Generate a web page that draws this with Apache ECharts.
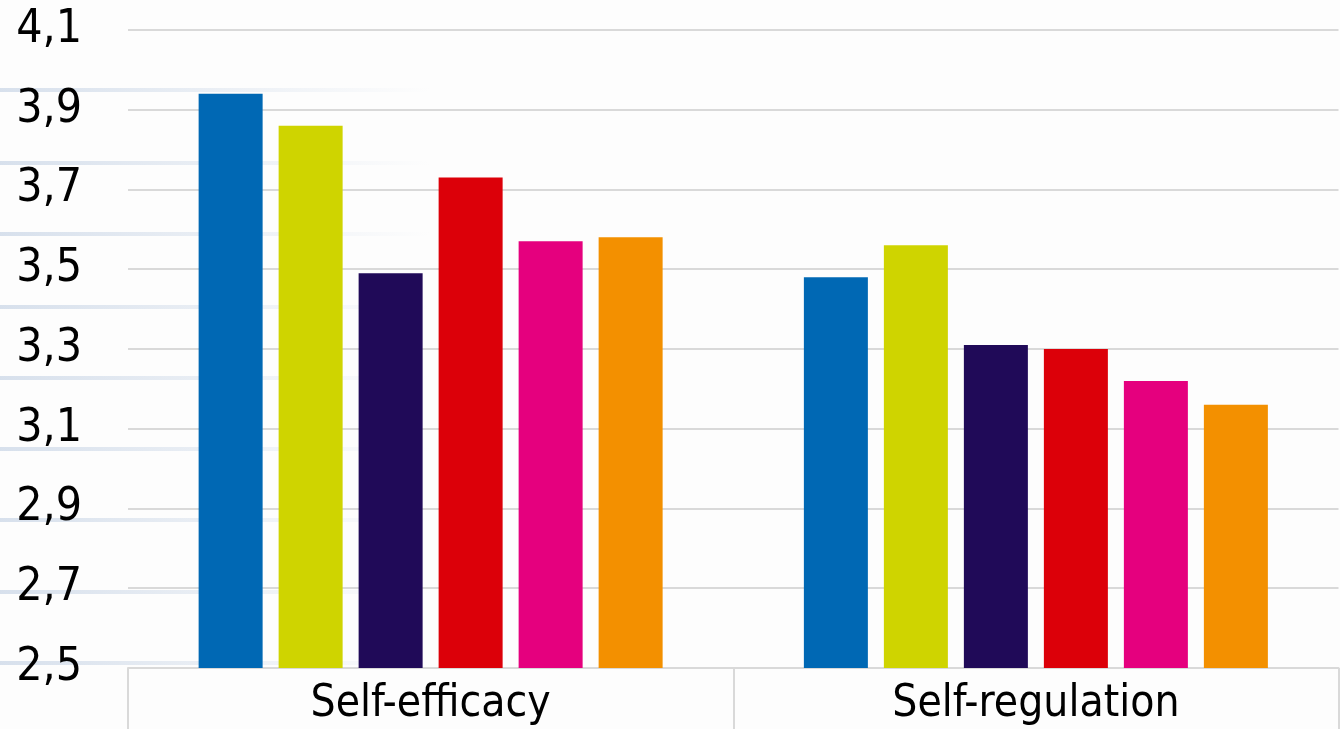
<!DOCTYPE html>
<html><head><meta charset="utf-8">
<script src="https://cdn.jsdelivr.net/npm/echarts@6/dist/echarts.min.js"></script>
<style>html,body{margin:0;padding:0;background:#fdfdfd}#c{width:1340px;height:729px}</style>
</head><body><div id="c"></div>
<script>
const categories = ['Self-efficacy', 'Self-regulation'];
const seriesNames = ['Group 1', 'Group 2', 'Group 3', 'Group 4', 'Group 5', 'Group 6'];
const s1 = [3.94, 3.48];
const s2 = [3.86, 3.56];
const s3 = [3.49, 3.31];
const s4 = [3.73, 3.30];
const s5 = [3.57, 3.22];
const s6 = [3.58, 3.16];
const colors = ['#0068B4', '#CFD400', '#200A58', '#DC0009', '#E5007E', '#F39000'];
const yMin = 2.5, yMax = 4.1, yStep = 0.2;
const decoY = [90, 163, 234, 307, 378, 449, 520, 592, 663];

const chart = echarts.init(document.getElementById('c'));
const allData = [s1, s2, s3, s4, s5, s6];
chart.setOption({
  backgroundColor: '#fdfdfd',
  animation: false,
  textStyle: { fontFamily: 'DejaVu Sans Condensed' },
  graphic: decoY.map(y => ({
    type: 'rect', z: -10, silent: true,
    shape: { x: 0, y: y - 2, width: 430, height: 4 },
    style: { fill: new echarts.graphic.LinearGradient(0, 0, 1, 0, [
      { offset: 0, color: 'rgba(190,205,225,0.6)' },
      { offset: 1, color: 'rgba(190,205,225,0)' }]) }
  })),
  grid: { left: 128, right: 1.5, top: 30, bottom: 61, containLabel: false },
  xAxis: {
    type: 'category', data: categories,
    axisLine: { show: true, lineStyle: { color: '#d9d9d9', width: 2 } },
    axisTick: { show: true, length: 61, lineStyle: { color: '#d9d9d9', width: 2 } },
    axisLabel: { color: '#000', fontSize: 44, margin: 15, fontFamily: 'DejaVu Sans Condensed' }
  },
  yAxis: {
    type: 'value', min: yMin, max: yMax, interval: yStep,
    axisLine: { show: false }, axisTick: { show: false },
    splitLine: { lineStyle: { color: '#d9d9d9', width: 2 } },
    axisLabel: { color: '#000', fontSize: 46, margin: 46, fontFamily: 'DejaVu Sans Condensed',
      formatter: v => v.toFixed(1).replace('.', ',') }
  },
  series: allData.map((d, i) => ({
    name: seriesNames[i], type: 'bar', data: d,
    barWidth: 64, barGap: '25%',
    itemStyle: { color: colors[i] }
  }))
});
</script></body></html>
